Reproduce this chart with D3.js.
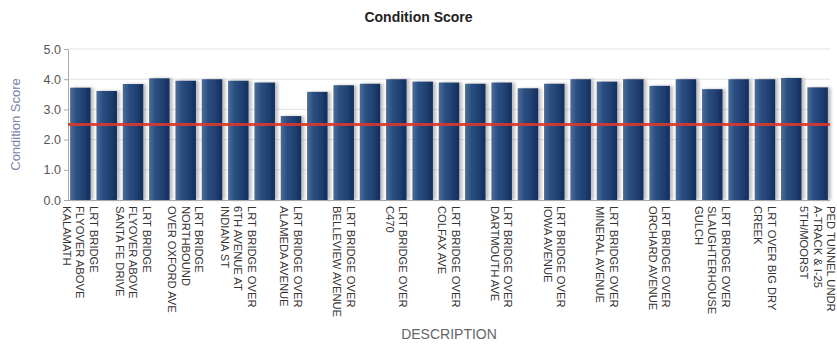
<!DOCTYPE html>
<html>
<head>
<meta charset="utf-8">
<script src="https://cdn.jsdelivr.net/npm/d3@7"></script>
<style>
  html, body { margin: 0; padding: 0; background: #fff; }
  svg { display: block; font-family: "Liberation Sans", Arial, sans-serif; }
</style>
</head>
<body>
<svg id="chart" width="837" height="344"></svg>
<script>
// Condition score per structure (29 bars, every other one labelled)
const scores = [3.72, 3.61, 3.84, 4.03, 3.95, 4.0, 3.95, 3.89, 2.78, 3.58,
                3.8, 3.85, 4.0, 3.92, 3.89, 3.85, 3.89, 3.7, 3.85, 4.0,
                3.92, 4.0, 3.78, 4.0, 3.67, 4.0, 4.0, 4.04, 3.73];

// Labels shown on the axis (one for every second bar), split into lines
const tickLabels = [
  ["LRT BRIDGE", "FLYOVER ABOVE", "KALAMATH"],
  ["LRT BRIDGE", "FLYOVER ABOVE", "SANTA FE DRIVE"],
  ["LRT BRIDGE", "NORTHBOUND", "OVER OXFORD AVE"],
  ["LRT BRIDGE OVER", "6TH AVENUE AT", "INDIANA ST"],
  ["LRT BRIDGE OVER", "ALAMEDA AVENUE"],
  ["LRT BRIDGE OVER", "BELLEVIEW AVENUE"],
  ["LRT BRIDGE OVER", "C470"],
  ["LRT BRIDGE OVER", "COLFAX AVE"],
  ["LRT BRIDGE OVER", "DARTMOUTH AVE"],
  ["LRT BRIDGE OVER", "IOWA AVENUE"],
  ["LRT BRIDGE OVER", "MINERAL AVENUE"],
  ["LRT BRIDGE OVER", "ORCHARD AVENUE"],
  ["LRT BRIDGE OVER", "SLAUGHTERHOUSE", "GULCH"],
  ["LRT OVER BIG DRY", "CREEK"],
  ["PED TUNNEL UNDR", "A-TRACK & I-25", "5TH/MOORST"]
];

const yTicks = [0, 1, 2, 3, 4, 5];
const threshold = 2.5;

const svg = d3.select("#chart");
const plotLeft = 68, plotRight = 830, plotTop = 49, plotBottom = 200;

const x = d3.scaleBand()
  .domain(d3.range(scores.length))
  .range([plotLeft, plotRight])
  .paddingInner(0.22)
  .paddingOuter(0.08);

const y = d3.scaleLinear().domain([0, 5]).range([plotBottom, plotTop]);

// defs: bar gradient and shadow
const defs = svg.append("defs");
const grad = defs.append("linearGradient").attr("id", "barGrad")
  .attr("x1", "0%").attr("x2", "100%").attr("y1", "0%").attr("y2", "0%");
grad.append("stop").attr("offset", "0%").attr("stop-color", "#4a6e9f");
grad.append("stop").attr("offset", "30%").attr("stop-color", "#2c4f82");
grad.append("stop").attr("offset", "70%").attr("stop-color", "#1f3f70");
grad.append("stop").attr("offset", "100%").attr("stop-color", "#112d5a");

const shadow = defs.append("filter").attr("id", "barShadow")
  .attr("x", "-20%").attr("y", "-10%").attr("width", "160%").attr("height", "120%");
shadow.append("feDropShadow").attr("dx", 3).attr("dy", 0)
  .attr("stdDeviation", 1.6).attr("flood-color", "#888").attr("flood-opacity", 0.55);

const soft = defs.append("filter").attr("id", "soft");
soft.append("feGaussianBlur").attr("stdDeviation", 0.6);

// title and separator
svg.append("text")
  .attr("x", 418.5).attr("y", 22)
  .attr("text-anchor", "middle")
  .attr("font-weight", "bold")
  .attr("font-size", 14)
  .attr("fill", "#222")
  .text("Condition Score");

svg.append("line")
  .attr("x1", 6).attr("x2", 832).attr("y1", 28).attr("y2", 28)
  .attr("stroke", "#d4d4d4").attr("stroke-width", 2)
  .attr("filter", "url(#soft)");

// gridlines
svg.append("g")
  .selectAll("line")
  .data(yTicks.filter(d => d > 0))
  .join("line")
  .attr("x1", plotLeft).attr("x2", plotRight)
  .attr("y1", d => y(d)).attr("y2", d => y(d))
  .attr("stroke", "#e2e2e2").attr("stroke-width", 1);

// y axis
const yAxis = svg.append("g")
  .attr("transform", `translate(${plotLeft},0)`)
  .call(d3.axisLeft(y).tickValues(yTicks).tickFormat(d3.format(".1f")).tickSize(4).tickPadding(3));
yAxis.select(".domain").attr("stroke", "#aaa");
yAxis.selectAll(".tick line").attr("stroke", "#aaa");
yAxis.selectAll(".tick text")
  .attr("font-size", 12.5)
  .attr("fill", "#555")
  .attr("font-family", "'Liberation Sans', Arial, sans-serif");

svg.append("text")
  .attr("transform", `translate(20,${(plotTop + plotBottom) / 2}) rotate(-90)`)
  .attr("text-anchor", "middle")
  .attr("font-size", 13)
  .attr("fill", "#7a84a6")
  .text("Condition Score");

// bars
svg.append("g")
  .selectAll("rect")
  .data(scores)
  .join("rect")
  .attr("x", (d, i) => x(i))
  .attr("width", x.bandwidth())
  .attr("y", d => y(d))
  .attr("height", d => y(0) - y(d))
  .attr("fill", "url(#barGrad)")
  .attr("filter", "url(#barShadow)");

// x axis baseline
svg.append("line")
  .attr("x1", plotLeft).attr("x2", plotRight)
  .attr("y1", plotBottom + 0.5).attr("y2", plotBottom + 0.5)
  .attr("stroke", "#aaa");

// threshold line
svg.append("line")
  .attr("x1", plotLeft).attr("x2", plotRight)
  .attr("y1", y(threshold)).attr("y2", y(threshold))
  .attr("stroke", "#d8392e").attr("stroke-width", 3)
  .attr("stroke-opacity", 0.9);

// x tick labels: rotated, multi-line, every other bar
const lineGap = 13.5;
const tickIdx = d3.range(0, scores.length, 2);
const labels = svg.append("g")
  .selectAll("g")
  .data(tickIdx)
  .join("g")
  .attr("transform", i => `translate(${x(i) + x.bandwidth() / 2},${plotBottom + 6}) rotate(90)`);

labels.each(function (i) {
  const lines = tickLabels[i / 2];
  const n = lines.length;
  d3.select(this).selectAll("text")
    .data(lines)
    .join("text")
    .attr("x", 0)
    .attr("y", (d, k) => -((n - 1) / 2 - k) * lineGap)
    .attr("dy", "0.35em")
    .attr("font-size", 11.2)
    .attr("fill", "#333")
    .text(d => d);
});

// x axis title
svg.append("text")
  .attr("x", (plotLeft + plotRight) / 2).attr("y", 339)
  .attr("text-anchor", "middle")
  .attr("font-size", 14)
  .attr("fill", "#666")
  .text("DESCRIPTION");
</script>
</body>
</html>
